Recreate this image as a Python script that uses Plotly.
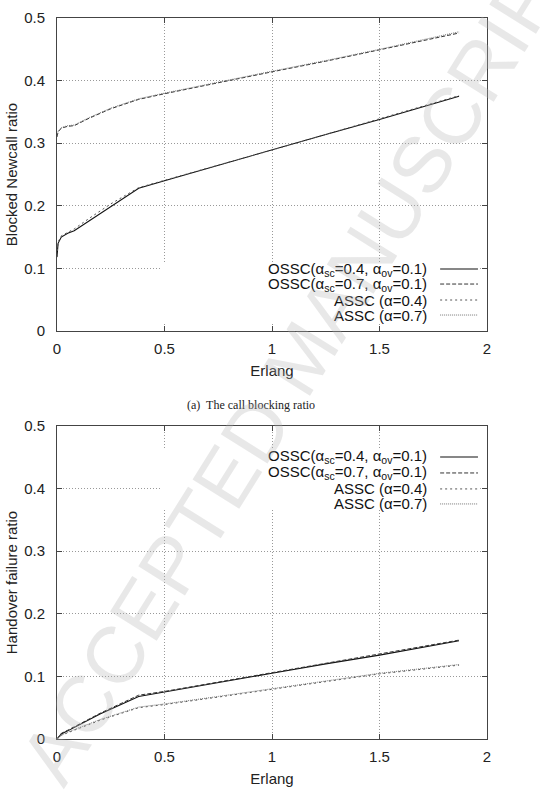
import plotly.graph_objects as go

# ---------------- data ----------------
# (a) blocked new-call ratio
x_a_low = [0, 0.005, 0.02, 0.05, 0.08, 0.15, 0.25, 0.38, 0.5, 0.75, 1.0, 1.25, 1.5, 1.87]
y_ossc04_a = [0.118, 0.14, 0.150, 0.156, 0.160, 0.176, 0.199, 0.228, 0.240, 0.265, 0.289, 0.314, 0.338, 0.375]
y_assc04_a = [0.120, 0.142, 0.152, 0.158, 0.163, 0.180, 0.203, 0.229, 0.241, 0.265, 0.289, 0.314, 0.338, 0.376]
x_a_high = [0, 0.005, 0.02, 0.05, 0.08, 0.15, 0.25, 0.38, 0.5, 0.75, 1.0, 1.25, 1.5, 1.87]
y_ossc07_a = [0.310, 0.318, 0.324, 0.327, 0.328, 0.340, 0.355, 0.370, 0.379, 0.397, 0.414, 0.431, 0.449, 0.476]
y_assc07_a = [0.311, 0.319, 0.325, 0.328, 0.329, 0.341, 0.356, 0.371, 0.380, 0.398, 0.415, 0.432, 0.450, 0.478]

# (b) handover failure ratio
x_b = [0, 0.02, 0.05, 0.1, 0.2, 0.38, 0.5, 0.75, 1.0, 1.25, 1.5, 1.87]
y_ossc04_b = [0.0, 0.008, 0.013, 0.022, 0.040, 0.068, 0.075, 0.090, 0.105, 0.120, 0.134, 0.157]
y_ossc07_b = [0.0, 0.009, 0.014, 0.023, 0.041, 0.070, 0.076, 0.091, 0.106, 0.120, 0.135, 0.158]
y_assc04_b = [0.0, 0.006, 0.010, 0.017, 0.030, 0.050, 0.055, 0.067, 0.079, 0.092, 0.104, 0.118]
y_assc07_b = [0.0, 0.006, 0.011, 0.018, 0.031, 0.051, 0.056, 0.068, 0.080, 0.093, 0.105, 0.119]

legend_labels = [
    "OSSC(α<sub>sc</sub>=0.4, α<sub>ov</sub>=0.1)",
    "OSSC(α<sub>sc</sub>=0.7, α<sub>ov</sub>=0.1)",
    "ASSC (α=0.4)",
    "ASSC (α=0.7)",
]
x_ticks = [0, 0.5, 1, 1.5, 2]
x_tick_text = ["0", "0.5", "1", "1.5", "2"]
y_ticks = [0, 0.1, 0.2, 0.3, 0.4, 0.5]
y_tick_text = ["0", "0.1", "0.2", "0.3", "0.4", "0.5"]

styles = [
    dict(color="#111111", width=1.1, dash="solid"),
    dict(color="#333333", width=1.0, dash="4px,2px"),
    dict(color="#555555", width=1.0, dash="2px,3px"),
    dict(color="#777777", width=1.0, dash="1px,1px"),
]

FONT = "Liberation Sans, Arial, Helvetica, sans-serif"

fig = go.Figure()

series_a = [(x_a_low, y_ossc04_a), (x_a_high, y_ossc07_a), (x_a_low, y_assc04_a), (x_a_high, y_assc07_a)]
series_b = [(x_b, y_ossc04_b), (x_b, y_ossc07_b), (x_b, y_assc04_b), (x_b, y_assc07_b)]

for i, (xs, ys) in enumerate(series_a):
    fig.add_trace(go.Scatter(x=xs, y=ys, mode="lines", line=styles[i], showlegend=False,
                             xaxis="x", yaxis="y"))
for i, (xs, ys) in enumerate(series_b):
    fig.add_trace(go.Scatter(x=xs, y=ys, mode="lines", line=styles[i], showlegend=False,
                             xaxis="x2", yaxis="y2"))

axis_common = dict(
    showline=True, linecolor="#444444", linewidth=1, mirror="allticks",
    ticks="inside", ticklen=5, tickcolor="#444444", automargin=False,
    showgrid=True, gridcolor="#999999", gridwidth=1, griddash="1px,2px",
    zeroline=False, tickfont=dict(family=FONT, size=15, color="#222222"),
)

fig.update_layout(
    width=543, height=795,
    margin=dict(l=57, r=56, t=18, b=56),
    paper_bgcolor="white", plot_bgcolor="white",
    font=dict(family=FONT, size=15, color="#222222"),
    xaxis=dict(domain=[0, 1], range=[0, 2], tickvals=x_ticks, ticktext=x_tick_text, anchor="y",
               ticklabelstandoff=4,
               title=dict(text="Erlang", standoff=9, font=dict(size=15)), **axis_common),
    yaxis=dict(domain=[0.5659, 1], range=[0, 0.5], tickvals=y_ticks, ticktext=y_tick_text, anchor="x",
               ticklabelstandoff=8,
               title=dict(text="Blocked Newcall ratio", standoff=2, font=dict(size=15)), **axis_common),
    xaxis2=dict(domain=[0, 1], range=[0, 2], tickvals=x_ticks, ticktext=x_tick_text, anchor="y2",
                ticklabelstandoff=4,
                title=dict(text="Erlang", standoff=9, font=dict(size=15)), **axis_common),
    yaxis2=dict(domain=[0, 0.4341], range=[0, 0.5], tickvals=y_ticks, ticktext=y_tick_text, anchor="x2",
                ticklabelstandoff=8,
                title=dict(text="Handover failure ratio", standoff=2, font=dict(size=15)), **axis_common),
)

shapes = []
annotations = []


def add_key(xref, yref, box_y0, box_y1, rows):
    shapes.append(dict(type="rect", xref=xref, yref=yref, x0=0.24, x1=0.984, y0=box_y0, y1=box_y1,
                       fillcolor="white", line=dict(width=0), layer="above"))
    for i, ry in enumerate(rows):
        shapes.append(dict(type="line", xref=xref, yref=yref, x0=0.891, x1=0.979, y0=ry, y1=ry,
                           line=styles[i], layer="above"))
        annotations.append(dict(xref=xref, yref=yref, x=0.866, y=ry, text=legend_labels[i],
                                showarrow=False, xanchor="right", yanchor="middle",
                                font=dict(family=FONT, size=15, color="#111111")))


add_key("x domain", "y domain", 0.029, 0.22, [0.198, 0.150, 0.099, 0.051])
add_key("x2 domain", "y2 domain", 0.735, 0.923, [0.901, 0.850, 0.799, 0.751])

annotations.append(dict(xref="paper", yref="paper", x=0.451, y=0.463, text="(a)  The call blocking ratio",
                        showarrow=False, xanchor="center", yanchor="middle",
                        font=dict(family="Liberation Serif, Times New Roman, serif", size=12, color="#222222")))

annotations.append(dict(xref="paper", yref="paper", x=0.57, y=0.53, text="ACCEPTED MANUSCRIPT",
                        showarrow=False, textangle=-58, xanchor="center", yanchor="middle",
                        font=dict(family=FONT, size=80, color="rgba(180,180,180,0.3)")))

fig.update_layout(shapes=shapes, annotations=annotations)

fig.write_html("out.html")
